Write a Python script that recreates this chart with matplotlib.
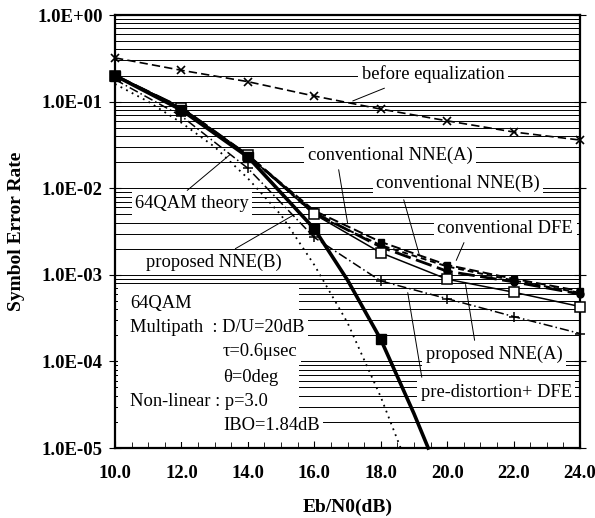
import matplotlib
matplotlib.use("Agg")
import matplotlib.pyplot as plt
import numpy as np
from matplotlib.patches import Rectangle

plt.rcParams['font.family'] = ['Liberation Serif', 'DejaVu Serif']
plt.rcParams['mathtext.fontset'] = 'stix'

# values (Eb/N0 in dB, symbol error rate)
ebn0 = [10, 12, 14, 16, 18, 20, 22, 24]
before_eq = [0.32, 0.23, 0.17, 0.116, 0.082, 0.060, 0.0446, 0.036]

conv_nne_a = [0.20, 0.085, 0.024, 5.5e-3, 2.4e-3, 1.3e-3, 9.0e-4, 6.5e-4]
conv_nne_b = [0.20, 0.085, 0.024, 5.0e-3, 2.2e-3, 1.25e-3, 8.6e-4, 6.2e-4]
conv_dfe = [0.20, 0.085, 0.024, 5.2e-3, 2.1e-3, 1.1e-3, 8.3e-4, 6.0e-4]

prop_nne_a = [0.20, 0.085, 0.024, 5.0e-3, 1.8e-3, 8.9e-4, 6.3e-4, 4.3e-4]
predist_dfe = [0.18, 0.068, 0.017, 2.7e-3, 8.5e-4, 5.3e-4, 3.3e-4, 2.1e-4]

prop_nne_b_x = [10, 12, 14, 16, 17, 18, 19, 19.43]
prop_nne_b = [0.20, 0.080, 0.023, 3.4e-3, 8.7e-4, 1.8e-4, 2.5e-5, 1.0e-5]

theory_x = [10, 11, 12, 13, 14, 15, 16, 17, 18, 18.6]
theory = [0.16, 0.10, 0.057, 0.030, 0.013, 4.9e-3, 1.3e-3, 2.8e-4, 3.9e-5, 1.0e-5]

ytick_vals = [1e-5, 1e-4, 1e-3, 1e-2, 1e-1, 1e0]
ytick_labels = ['1.0E-05', '1.0E-04', '1.0E-03', '1.0E-02', '1.0E-01', '1.0E+00']
xtick_vals = [10, 12, 14, 16, 18, 20, 22, 24]
xtick_labels = ['10.0', '12.0', '14.0', '16.0', '18.0', '20.0', '22.0', '24.0']

fig = plt.figure(figsize=(5.95, 5.18), dpi=100)
ax = fig.add_axes([0.1933, 0.1351, 0.7815, 0.8359])
ax.set_yscale('log')
ax.set_xlim(10, 24)
ax.set_ylim(1e-5, 1)

# horizontal rules at every decade step
ax.grid(True, which='both', axis='y', color='black', lw=0.7)
ax.grid(False, axis='x')
ax.set_axisbelow(True)

# blank area behind the parameter block
ax.add_patch(Rectangle((0.006, 0.015), 0.39, 0.355, transform=ax.transAxes,
                       facecolor='white', edgecolor='none', zorder=1.5))

ax.plot(ebn0, before_eq, color='black', ls=(0, (5, 2.5)), lw=1.2,
        marker='x', ms=6, mew=1.2, zorder=3, clip_on=False)
ax.plot(ebn0, conv_nne_a, color='black', ls=(0, (5, 2)), lw=1.4,
        marker='s', ms=4, zorder=3, clip_on=False)
ax.plot(ebn0, conv_nne_b, color='black', ls=(0, (3, 2)), lw=1.4,
        marker='^', ms=4, zorder=3, clip_on=False)
ax.plot(ebn0, conv_dfe, color='black', ls=(0, (6, 2)), lw=2.0,
        marker='o', ms=5, zorder=3, clip_on=False)
ax.plot(ebn0, prop_nne_a, color='black', ls='-', lw=1.1,
        marker='s', ms=7, mfc='white', mew=1.1, zorder=4, clip_on=False)
ax.plot(ebn0, predist_dfe, color='black', ls=(0, (6, 2, 1, 2)), lw=1.1,
        marker='+', ms=7, mew=1.1, zorder=3, clip_on=False)
ax.plot(prop_nne_b_x, prop_nne_b, color='black', ls='-', lw=2.6,
        marker='s', ms=7, markevery=[0, 1, 2, 3, 5], zorder=5, clip_on=False)
ax.plot(theory_x, theory, color='black', ls=(0, (1, 2.5)), lw=1.3, zorder=3)

ax.set_xticks(xtick_vals)
ax.set_xticklabels(xtick_labels, fontsize=13.5, fontweight='bold')
ax.set_xticks(np.arange(10, 24.01, 0.5), minor=True)
ax.set_yticks(ytick_vals)
ax.set_yticklabels(ytick_labels, fontsize=13.5, fontweight='bold')
ax.tick_params(axis='x', which='major', direction='in', length=5, pad=12,
               top=False)
ax.tick_params(axis='x', which='minor', direction='in', length=4, top=False)
ax.tick_params(axis='y', which='major', direction='inout', length=8, pad=5,
               right=True)
ax.tick_params(axis='y', which='minor', direction='in', length=4, right=True,
               labelleft=False)
for s in ax.spines.values():
    s.set_linewidth(1.6)

ax.set_xlabel('Eb/N0(dB)', fontsize=14, fontweight='bold', labelpad=12)
ax.set_ylabel('Symbol Error Rate', fontsize=14, fontweight='bold', labelpad=9)

box = dict(facecolor='white', edgecolor='none', pad=2.5)
lead = dict(arrowstyle='-', color='black', lw=0.7)
fs = 13.3


def label(txt, xy, xytext, tail):
    ax.annotate('', xy=xy, xytext=tail, arrowprops=lead, zorder=6)
    ax.text(xytext[0], xytext[1], txt, fontsize=fs, ha='center',
            va='center', bbox=box, zorder=7)


label('before equalization', (17.08, 0.099), (19.58, 0.208), (18.19, 0.147))
label('conventional NNE(A)', (17.02, 3.6e-3), (18.28, 0.0242), (16.72, 0.0176))
label('conventional NNE(B)', (19.19, 1.56e-3), (20.33, 0.0115), (18.67, 7.9e-3))
label('conventional DFE', (20.24, 1.37e-3), (21.75, 3.47e-3), (20.54, 2.52e-3))
label('proposed NNE(A)', (20.54, 8.3e-4), (21.42, 1.22e-4), (20.84, 1.63e-4))
label('pre-distortion+ DFE', (18.80, 6.7e-4), (21.48, 4.43e-5), (19.25, 6.1e-5))
label('64QAM theory', (13.52, 0.0255), (12.32, 6.75e-3), (12.11, 9.0e-3))
label('proposed NNE(B)', (15.48, 5.17e-3), (12.98, 1.4e-3), (13.55, 1.93e-3))

params_left = [('64QAM', 4.72e-4), ('Multipath  : D/U=20dB', 2.49e-4),
               ('Non-linear : p=3.0', 3.4e-5)]
params_ind = [('\u03c4=0.6\u03bcsec', 1.29e-4), ('\u03b8=0deg', 6.6e-5),
              ('IBO=1.84dB', 1.8e-5)]
for t, yv in params_left:
    ax.text(10.45, yv, t, fontsize=fs, ha='left', va='center', bbox=box,
            zorder=7)
for t, yv in params_ind:
    ax.text(13.25, yv, t, fontsize=fs, ha='left', va='center', bbox=box,
            zorder=7)

fig.savefig('out.png', dpi=100)
